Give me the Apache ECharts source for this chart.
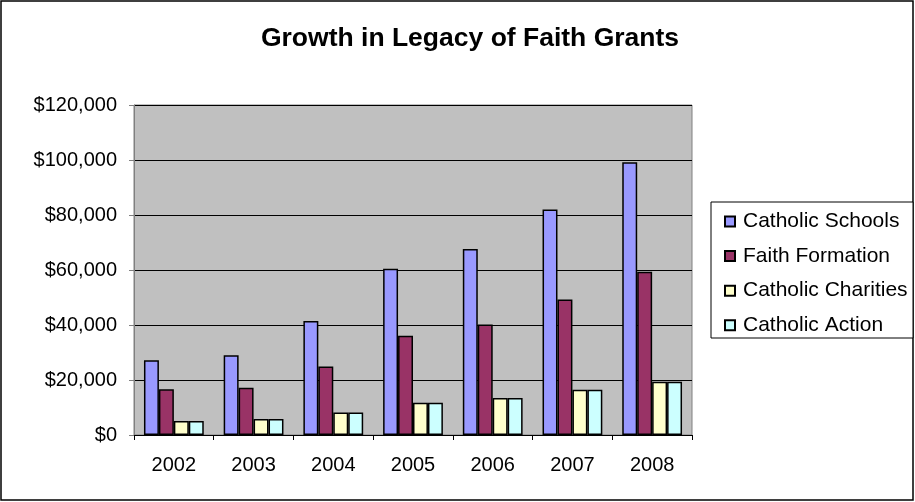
<!DOCTYPE html>
<html>
<head>
<meta charset="utf-8">
<script src="https://cdn.jsdelivr.net/npm/echarts@6/dist/echarts.min.js"></script>
<style>html,body{margin:0;padding:0;background:#fff}#c{width:915px;height:502px}</style>
</head>
<body>
<div id="c"></div>
<script>
const categories = ['2002','2003','2004','2005','2006','2007','2008'];
const catholicSchools   = [27200, 29000, 41500, 60500, 67600, 82000, 99200];
const faithFormation    = [16600, 17200, 24900, 36100, 40200, 49300, 59400];
const catholicCharities = [5100, 5800, 8200, 11700, 13500, 16500, 19400];
const catholicAction    = [5100, 5800, 8200, 11700, 13500, 16500, 19400];
const seriesNames = ['Catholic Schools','Faith Formation','Catholic Charities','Catholic Action'];
const seriesColors = ['#9999ff','#993366','#ffffcc','#ccffff'];
const seriesData = [catholicSchools, faithFormation, catholicCharities, catholicAction];

const font = 'Arial, "Liberation Sans", sans-serif';
const chart = echarts.init(document.getElementById('c'));
chart.setOption({
  animation: false,
  backgroundColor: '#fff',
  textStyle: { fontFamily: font },
  title: {
    text: 'Growth in Legacy of Faith Grants',
    left: 465, textAlign: 'center', top: 20,
    textStyle: { fontSize: 26.5, fontWeight: 'bold', color: '#000', fontFamily: font }
  },
  grid: { left: 134, right: 223, top: 105, bottom: 67, show: true, backgroundColor: '#c0c0c0', borderColor: '#808080', borderWidth: 1 },
  legend: {
    orient: 'vertical', left: 719, top: 206,
    itemWidth: 10, itemHeight: 10, itemGap: 13.6,
    textStyle: { fontSize: 21, color: '#000', fontFamily: font, padding: [0,0,0,3], lineHeight: 21 },
    data: seriesNames.map(n => ({ name: n, icon: 'rect' }))
  },
  xAxis: {
    type: 'category', data: categories,
    axisLine: { lineStyle: { color: '#000', width: 1 } },
    axisTick: { show: true, length: 5, lineStyle: { color: '#000' } },
    axisLabel: { fontSize: 20, color: '#000', margin: 20, fontFamily: font }
  },
  yAxis: {
    type: 'value', min: 0, max: 120000, interval: 20000,
    axisLine: { show: true, lineStyle: { color: '#808080' } },
    axisTick: { show: true, length: 5, lineStyle: { color: '#808080' } },
    splitLine: { lineStyle: { color: '#000', width: 1 } },
    axisLabel: { fontSize: 20, color: '#000', margin: 17, fontFamily: font,
      formatter: v => '$' + v.toLocaleString('en-US') }
  },
  graphic: [
    { type: 'rect', shape: { x: 1, y: 1, width: 912, height: 499 }, style: { fill: 'none', stroke: '#000', lineWidth: 1.5 }, z: -10 },
    { type: 'rect', shape: { x: 711, y: 202, width: 202, height: 136 }, style: { fill: '#fff', stroke: '#000', lineWidth: 1 }, z: -5 }
  ],
  series: seriesNames.map((n, i) => ({
    name: n, type: 'bar', data: seriesData[i],
    barGap: '0%', barCategoryGap: '25%',
    itemStyle: { color: seriesColors[i], borderColor: '#000', borderWidth: 1.5 }
  }))
});
</script>
</body>
</html>
